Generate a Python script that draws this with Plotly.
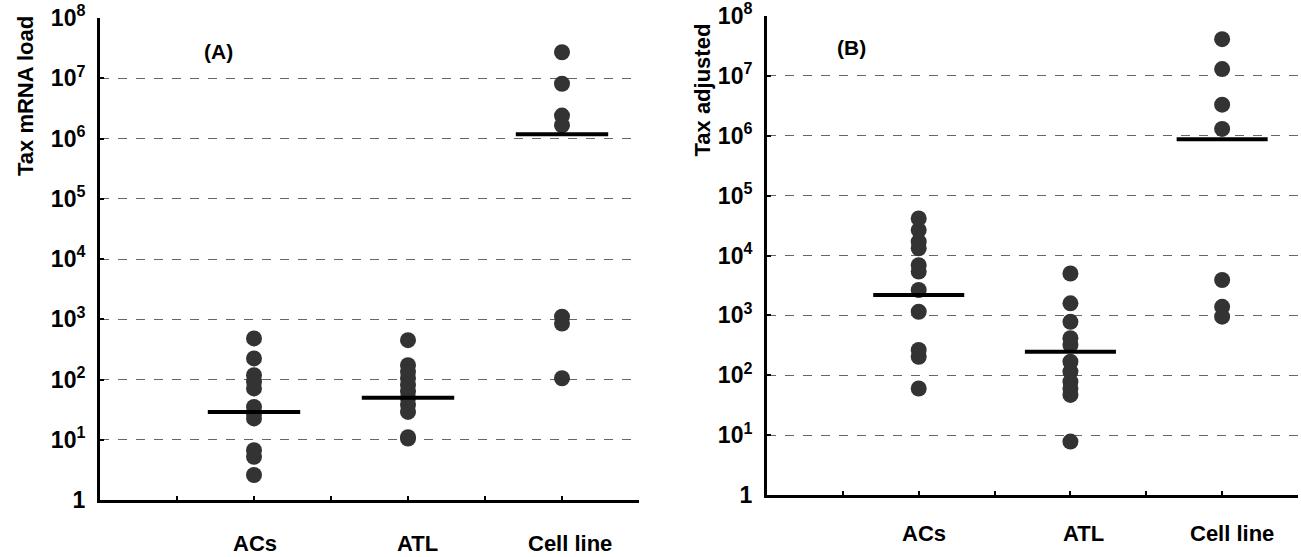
import plotly.graph_objects as go

categories = ["ACs", "ATL", "Cell line"]
cat_pos = [2, 4, 6]

# Panel A: Tax mRNA load
a_acs = [480, 224, 118, 92, 71, 35, 27, 22.6, 6.7, 5.2, 2.6]
a_atl = [450, 173, 134, 105, 81, 63, 49, 38, 29, 11, 10.5]
a_cell = [2.7e7, 8.1e6, 2.4e6, 1.66e6, 1100, 850, 105]
a_median = [29, 50, 1.18e6]

# Panel B: Tax adjusted
b_acs = [41600, 26600, 17000, 13200, 6900, 5400, 2650, 1150, 265, 203, 60]
b_atl = [5000, 1590, 780, 415, 320, 168, 115, 78, 60, 47, 7.8]
b_cell = [4.1e7, 1.3e7, 3.3e6, 1.3e6, 3900, 1390, 950]
b_median = [2180, 247, 8.7e5]

tick_vals = [1, 10, 100, 1e3, 1e4, 1e5, 1e6, 1e7, 1e8]
tick_text = ["<b>1</b>"] + ["<b>10<sup>%d</sup></b>" % k for k in range(1, 9)]

FONT = "Liberation Sans"
DOT = "#333333"
HALF = 0.6

fig = go.Figure()

panels = [
    ("x", "y", [a_acs, a_atl, a_cell], a_median),
    ("x2", "y2", [b_acs, b_atl, b_cell], b_median),
]
for xa, ya, groups, med in panels:
    for pos, vals in zip(cat_pos, groups):
        fig.add_trace(go.Scatter(
            x=[pos] * len(vals), y=vals, mode="markers", xaxis=xa, yaxis=ya,
            marker=dict(color=DOT, size=16, line=dict(width=0)),
            showlegend=False, hoverinfo="y"))
    mx, my = [], []
    for pos, m in zip(cat_pos, med):
        mx += [pos - HALF, pos + HALF, None]
        my += [m, m, None]
    fig.add_trace(go.Scatter(
        x=mx, y=my, mode="lines", xaxis=xa, yaxis=ya,
        line=dict(color="black", width=4), showlegend=False, hoverinfo="skip"))

W, H = 1301, 557

def px_x(p):
    return p / W

def px_y(p):
    return 1 - p / H

yaxis_common = dict(
    type="log", range=[0, 8], tickvals=tick_vals, ticktext=tick_text,
    showline=True, linecolor="black", linewidth=3,
    ticks="inside", ticklen=4, tickwidth=2, tickcolor="black",
    showgrid=True, gridcolor="#666666", gridwidth=1, griddash="dash",
    zeroline=False, ticklabelstandoff=7, automargin=False,
    ticklabeloverflow="allow",
    tickfont=dict(family=FONT, size=23, color="black"),
)
xaxis_common = dict(
    range=[0, 7], tickvals=list(range(0, 8)), showticklabels=False,
    showline=True, linecolor="black", linewidth=3,
    ticks="inside", ticklen=4, tickwidth=2, tickcolor="black",
    showgrid=False, zeroline=False, automargin=False,
)

fig.update_layout(
    width=W, height=H, autosize=False,
    margin=dict(l=0, r=0, t=0, b=0, pad=0),
    paper_bgcolor="white", plot_bgcolor="white",
    xaxis=dict(domain=[px_x(100), px_x(639)], anchor="y", **xaxis_common),
    yaxis=dict(domain=[px_y(500), px_y(18)], anchor="x", **yaxis_common),
    xaxis2=dict(domain=[px_x(767), px_x(1298)], anchor="y2", **xaxis_common),
    yaxis2=dict(domain=[px_y(495), px_y(16)], anchor="x2", **yaxis_common),
)

ann = []
def font(size):
    return dict(family=FONT, size=size, color="black")
# category labels
label_layout = (("x", px_y(543), [1, 9, 8]), ("x2", px_y(533), [5, 13, 10]))
for xr, ylab, shifts in label_layout:
    for pos, name, sh in zip(cat_pos, categories, shifts):
        ann.append(dict(x=pos, y=ylab, xref=xr, yref="paper", text="<b>%s</b>" % name,
                        showarrow=False, xanchor="center", yanchor="middle",
                        xshift=sh, font=font(22)))
# panel letters
ann.append(dict(x=px_x(218), y=px_y(52), xref="paper", yref="paper", text="<b>(A)</b>",
                showarrow=False, xanchor="center", yanchor="middle", font=font(21)))
ann.append(dict(x=px_x(851), y=px_y(47), xref="paper", yref="paper", text="<b>(B)</b>",
                showarrow=False, xanchor="center", yanchor="middle", font=font(21)))
# y titles
ann.append(dict(x=px_x(25), y=px_y(14), xref="paper", yref="paper", text="<b>Tax mRNA load</b>",
                textangle=-90, showarrow=False, xanchor="center", yanchor="top",
                font=font(22)))
ann.append(dict(x=px_x(702), y=px_y(22), xref="paper", yref="paper", text="<b>Tax adjusted</b>",
                textangle=-90, showarrow=False, xanchor="center", yanchor="top",
                font=font(22)))
fig.update_layout(annotations=ann)

fig.write_html("out.html", config={"displayModeBar": False},
               post_script="document.body.style.margin='0';document.body.style.overflow='hidden';")
